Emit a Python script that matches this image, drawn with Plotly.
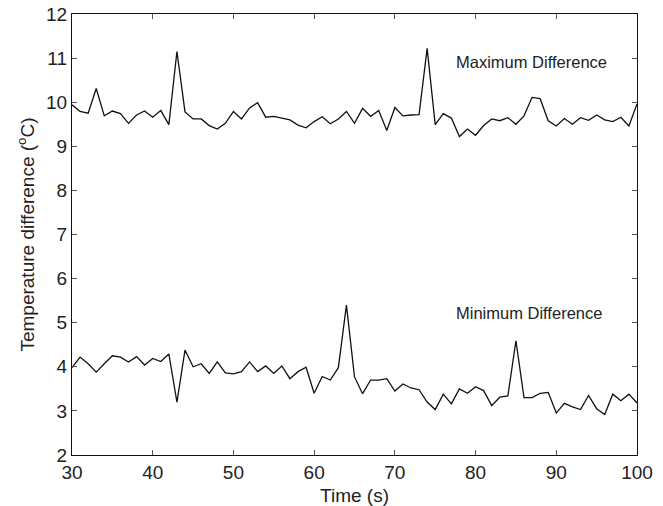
import plotly.graph_objects as go

time_s = list(range(30, 101))

max_diff = [9.94, 9.79, 9.75, 10.31, 9.69, 9.80, 9.74, 9.52, 9.71, 9.80,
            9.66, 9.81, 9.49, 11.15, 9.78, 9.62, 9.62, 9.47, 9.39, 9.52,
            9.79, 9.62, 9.87, 9.99, 9.66, 9.68, 9.64, 9.60, 9.48, 9.42,
            9.56, 9.67, 9.51, 9.62, 9.79, 9.52, 9.86, 9.68, 9.81, 9.36,
            9.88, 9.69, 9.71, 9.72, 11.22, 9.49, 9.74, 9.64, 9.22, 9.39,
            9.25, 9.47, 9.62, 9.58, 9.65, 9.50, 9.69, 10.11, 10.08, 9.58,
            9.46, 9.63, 9.50, 9.65, 9.59, 9.71, 9.60, 9.56, 9.66, 9.46,
            9.96]

min_diff = [3.98, 4.22, 4.07, 3.88, 4.07, 4.25, 4.22, 4.11, 4.23, 4.04,
            4.19, 4.12, 4.29, 3.20, 4.38, 4.00, 4.07, 3.85, 4.11, 3.86,
            3.84, 3.89, 4.11, 3.89, 4.02, 3.85, 4.02, 3.73, 3.89, 3.99,
            3.40, 3.78, 3.70, 3.98, 5.40, 3.77, 3.39, 3.70, 3.70, 3.73,
            3.45, 3.61, 3.52, 3.48, 3.20, 3.03, 3.38, 3.16, 3.50, 3.40,
            3.55, 3.46, 3.12, 3.31, 3.34, 4.59, 3.30, 3.30, 3.40, 3.42,
            2.95, 3.17, 3.09, 3.03, 3.35, 3.05, 2.92, 3.38, 3.23, 3.38,
            3.18]

x_ticks = [30, 40, 50, 60, 70, 80, 90, 100]
y_ticks = [2, 3, 4, 5, 6, 7, 8, 9, 10, 11, 12]

FONT = "Liberation Sans, Arial, Helvetica, sans-serif"

fig = go.Figure()
fig.add_trace(go.Scatter(x=time_s, y=max_diff, mode="lines",
                         line=dict(color="#111111", width=1.3),
                         name="Maximum Difference", showlegend=False))
fig.add_trace(go.Scatter(x=time_s, y=min_diff, mode="lines",
                         line=dict(color="#111111", width=1.3),
                         name="Minimum Difference", showlegend=False))

fig.add_annotation(x=86.9, y=10.91, text="Maximum Difference", showarrow=False,
                   font=dict(size=16.5, color="#222222", family=FONT))
fig.add_annotation(x=86.6, y=5.23, text="Minimum Difference", showarrow=False,
                   font=dict(size=16.5, color="#222222", family=FONT))

axis_common = dict(showgrid=False, zeroline=False, showline=True, linecolor="#111111",
                   linewidth=1.3, mirror="ticks", ticks="inside", ticklen=5,
                   tickwidth=1, tickcolor="#555555", automargin=False,
                   tickfont=dict(size=19, color="#222222", family=FONT))

fig.update_xaxes(range=[30, 100], tickvals=x_ticks,
                 title=dict(text="Time (s)", font=dict(size=19, color="#222222", family=FONT),
                            standoff=8),
                 **axis_common)
fig.update_yaxes(range=[2, 12], tickvals=y_ticks,
                 title=dict(text="Temperature difference (<sup>o</sup>C)",
                            font=dict(size=19, color="#222222", family=FONT), standoff=6),
                 **axis_common)

fig.update_layout(width=663, height=506, margin=dict(l=72, r=26, t=14, b=51),
                  plot_bgcolor="white", paper_bgcolor="white",
                  font=dict(family=FONT, color="#222222"))

fig.write_html("out.html")
